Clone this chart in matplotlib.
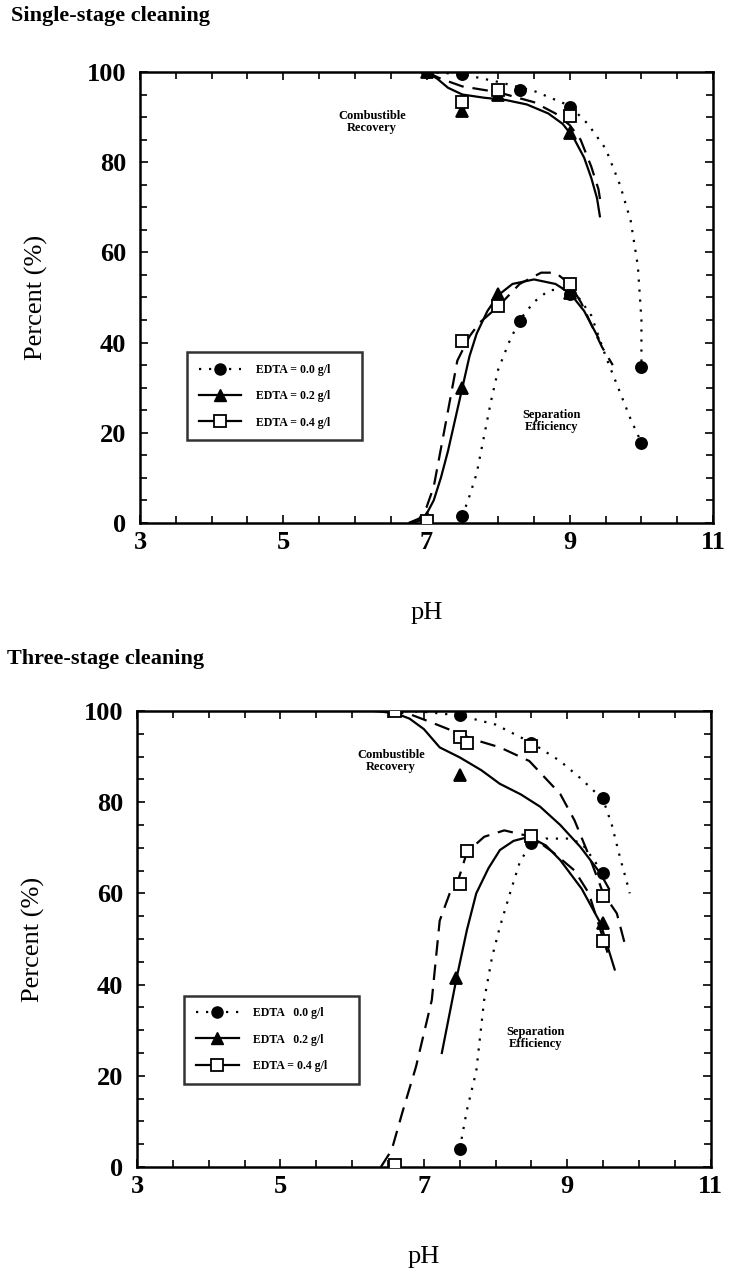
import matplotlib
matplotlib.use("Agg")
import matplotlib.pyplot as plt
from matplotlib.lines import Line2D
from matplotlib.ticker import MultipleLocator, FixedLocator

plt.rcParams['font.family'] = ['Liberation Serif', 'DejaVu Serif']

# ---- single-stage cleaning: measured points ----
s1_rec_ph_00 = [7.0, 7.5, 8.3, 9.0, 10.0]
s1_rec_00 = [100, 99.5, 96, 92.3, 34.5]
s1_rec_ph_02 = [7.0, 7.5, 8.0, 9.0]
s1_rec_02 = [100, 91.3, 95, 86.4]
s1_rec_ph_04 = [7.5, 8.0, 9.0]
s1_rec_04 = [93.3, 96, 90.2]

s1_sep_ph_00 = [7.5, 8.3, 9.0, 10.0]
s1_sep_00 = [1.5, 44.7, 50.7, 17.8]
s1_sep_ph_02 = [7.0, 7.5, 8.0, 9.0]
s1_sep_02 = [1.0, 30, 50.7, 51]
s1_sep_ph_04 = [7.0, 7.5, 8.0, 9.0]
s1_sep_04 = [0.5, 40.3, 48, 53]

# ---- single-stage cleaning: fitted curves ----
s1_crec_ph_00 = [7.0, 7.5, 8.0, 8.5, 9.0, 9.25, 9.5, 9.7, 9.85, 9.95, 10.0, 10.0]
s1_crec_00 = [100, 99.5, 97.8, 95.8, 92.5, 88.5, 83, 75, 67, 57, 45, 35]
s1_crec_ph_02 = [7.0, 7.15, 7.3, 7.5, 7.8, 8.1, 8.4, 8.7, 8.9, 9.05, 9.2, 9.3, 9.38, 9.42]
s1_crec_02 = [100, 98.5, 96.5, 95, 94.3, 93.8, 92.8, 90.8, 88.5, 85.5, 81, 76.5, 72, 68]
s1_crec_ph_04 = [7.0, 7.2, 7.5, 8.0, 8.5, 8.8, 9.0, 9.15, 9.3, 9.4, 9.43]
s1_crec_04 = [100, 98.5, 96.8, 95.5, 93.3, 90.8, 88.2, 85, 79, 74, 71]

s1_csep_ph_00 = [7.5, 7.6, 7.7, 7.8, 7.9, 8.0, 8.15, 8.3, 8.5, 8.7, 8.9, 9.1, 9.3, 9.5, 9.7, 9.85, 10.0]
s1_csep_00 = [1.5, 6, 11, 19, 27, 34, 40, 45, 49, 51.5, 52, 50.5, 46, 37, 29, 23, 17.8]
s1_csep_ph_02 = [6.8, 6.9, 7.0, 7.1, 7.2, 7.3, 7.4, 7.5, 7.6, 7.7, 7.85, 8.0, 8.2, 8.5, 8.8, 9.0, 9.2, 9.4]
s1_csep_02 = [0, 0.5, 2, 5, 10, 16, 23, 30, 37, 42, 47, 50.5, 53, 54, 53, 51, 47, 41]
s1_csep_ph_04 = [6.75, 6.9, 7.0, 7.1, 7.26, 7.43, 7.6, 7.74, 8.0, 8.3, 8.6, 8.8, 9.0, 9.16, 9.3, 9.45, 9.6]
s1_csep_04 = [0, 1, 3.5, 8, 21.5, 36, 41.4, 44.4, 48, 53, 55.5, 55.5, 53, 48.8, 44, 39, 35]

# ---- three-stage cleaning: measured points ----
s3_rec_ph_00 = [7.5, 8.5, 9.5]
s3_rec_00 = [99, 93, 81]
s3_rec_ph_02 = [7.5]
s3_rec_02 = [86]
s3_rec_ph_04 = [6.6, 7.5, 7.6, 8.5, 9.5]
s3_rec_04 = [100, 94.2, 92.9, 92.4, 59.5]

s3_sep_ph_00 = [7.5, 8.5, 9.5]
s3_sep_00 = [4, 71, 64.4]
s3_sep_ph_02 = [7.45, 9.5]
s3_sep_02 = [41.5, 53.5]
s3_sep_ph_04 = [6.6, 7.5, 7.6, 8.5, 9.5]
s3_sep_04 = [0.5, 62, 69.3, 72.5, 49.5]

# ---- three-stage cleaning: fitted curves ----
s3_crec_ph_00 = [6.6, 7.0, 7.5, 8.0, 8.5, 8.9, 9.2, 9.5, 9.62, 9.74, 9.82, 9.87]
s3_crec_00 = [100, 99.8, 99, 97, 93, 89, 85, 80.5, 75, 67.5, 63, 60]
s3_crec_ph_02 = [6.3, 6.6, 6.8, 7.0, 7.22, 7.5, 7.8, 8.06, 8.35, 8.62, 8.9, 9.18, 9.46, 9.58]
s3_crec_02 = [100, 99.5, 98.3, 96, 92, 89.8, 87, 84, 81.7, 79, 75, 70.2, 64.4, 61]
s3_crec_ph_04 = [6.5, 6.8, 7.1, 7.5, 7.7, 8.06, 8.47, 8.9, 9.1, 9.29, 9.5, 9.69, 9.8]
s3_crec_04 = [100, 99.3, 97.5, 95, 93.7, 92, 89, 81.8, 76, 68.7, 60, 55.6, 49]

s3_csep_ph_00 = [7.5, 7.6, 7.73, 7.84, 7.95, 8.06, 8.2, 8.34, 8.47, 8.7, 9.0, 9.2, 9.5]
s3_csep_00 = [4, 12.5, 21, 36.6, 46, 52.7, 60, 67, 70.2, 72, 72, 71, 64.4]
s3_csep_ph_02 = [7.25, 7.35, 7.45, 7.6, 7.73, 7.9, 8.06, 8.25, 8.47, 8.7, 8.9, 9.2, 9.46, 9.66]
s3_csep_02 = [25, 33, 41, 52, 60, 65.5, 69.5, 71.5, 72.4, 70.5, 67.3, 61, 53.5, 43.3]
s3_csep_ph_04 = [6.4, 6.55, 6.7, 6.89, 7.11, 7.22, 7.36, 7.48, 7.6, 7.84, 8.12, 8.5, 8.8, 9.1, 9.3, 9.5, 9.56]
s3_csep_04 = [0, 3.7, 12, 22, 36.6, 54, 60, 63, 69, 72.4, 73.8, 72.4, 69, 65, 60, 50, 47]

ph_ticks = [3, 5, 7, 9, 11]
labels_single = ["EDTA = 0.0 g/l", "EDTA = 0.2 g/l", "EDTA = 0.4 g/l"]
labels_three = ["EDTA   0.0 g/l", "EDTA   0.2 g/l", "EDTA = 0.4 g/l"]

DOT = (0, (1, 3.5))
DASH = (0, (7, 4))


def draw_panel(ax, pts, curves, labels, rec_xy, sep_xy):
    styles = [DOT, '-', DASH]
    for (xs, ys), ls in zip(curves, styles * 2):
        ax.plot(xs, ys, color='black', lw=1.6, linestyle=ls)

    marks = [dict(marker='o', mfc='black', ms=8),
             dict(marker='^', mfc='black', ms=8),
             dict(marker='s', mfc='white', ms=9)]
    for (xs, ys), m in zip(pts, marks * 2):
        ax.plot(xs, ys, linestyle='none', mec='black', mew=1.3, zorder=5, **m)

    handles = [Line2D([], [], color='black', lw=1.6, linestyle=DOT, **marks[0]),
               Line2D([], [], color='black', lw=1.6, linestyle='-', **marks[1]),
               Line2D([], [], color='black', lw=1.6, linestyle='-', mec='black', mew=1.3, **marks[2])]
    leg = ax.legend(handles, labels, loc='lower left', bbox_to_anchor=(0.072, 0.17, 0.325, 0.235),
                    mode='expand', frameon=True, fancybox=False, edgecolor='black',
                    handlelength=3.6, labelspacing=1.2, borderpad=1.0, handletextpad=1.2,
                    prop={'family': 'Liberation Serif', 'weight': 'bold', 'size': 8.5})
    leg.get_frame().set_linewidth(1.8)

    ax.text(rec_xy[0], rec_xy[1], "Combustible\nRecovery", ha='center', va='center',
            fontsize=9, fontweight='bold', linespacing=1.0)
    ax.text(sep_xy[0], sep_xy[1], "Separation\nEfficiency", ha='center', va='center',
            fontsize=9, fontweight='bold', linespacing=1.0)

    ax.set_xlim(3, 11)
    ax.set_ylim(0, 100)
    ax.xaxis.set_major_locator(FixedLocator(ph_ticks))
    ax.xaxis.set_minor_locator(MultipleLocator(0.5))
    ax.yaxis.set_major_locator(MultipleLocator(20))
    ax.yaxis.set_minor_locator(MultipleLocator(5))
    ax.tick_params(which='both', direction='in', top=True, right=True, width=1.2)
    ax.tick_params(which='major', length=6, labelsize=19)
    ax.tick_params(which='minor', length=5)
    ax.tick_params(axis='y', pad=10)
    ax.tick_params(axis='x', pad=6)
    for lbl in ax.get_xticklabels() + ax.get_yticklabels():
        lbl.set_fontweight('bold')
    for sp in ax.spines.values():
        sp.set_linewidth(1.8)
    ax.set_xlabel("pH", fontsize=19, labelpad=34)
    ax.set_ylabel("Percent (%)", fontsize=19, labelpad=28)


fig = plt.figure(figsize=(7.3, 12.74), dpi=100)
ax1 = fig.add_axes([0.1918, 0.5895, 0.785, 0.354])
ax2 = fig.add_axes([0.1877, 0.084, 0.786, 0.358])

draw_panel(ax1,
           [(s1_rec_ph_00, s1_rec_00), (s1_rec_ph_02, s1_rec_02), (s1_rec_ph_04, s1_rec_04),
            (s1_sep_ph_00, s1_sep_00), (s1_sep_ph_02, s1_sep_02), (s1_sep_ph_04, s1_sep_04)],
           [(s1_crec_ph_00, s1_crec_00), (s1_crec_ph_02, s1_crec_02), (s1_crec_ph_04, s1_crec_04),
            (s1_csep_ph_00, s1_csep_00), (s1_csep_ph_02, s1_csep_02), (s1_csep_ph_04, s1_csep_04)],
           labels_single, (6.24, 88.8), (8.74, 22.6))

draw_panel(ax2,
           [(s3_rec_ph_00, s3_rec_00), (s3_rec_ph_02, s3_rec_02), (s3_rec_ph_04, s3_rec_04),
            (s3_sep_ph_00, s3_sep_00), (s3_sep_ph_02, s3_sep_02), (s3_sep_ph_04, s3_sep_04)],
           [(s3_crec_ph_00, s3_crec_00), (s3_crec_ph_02, s3_crec_02), (s3_crec_ph_04, s3_crec_04),
            (s3_csep_ph_00, s3_csep_00), (s3_csep_ph_02, s3_csep_02), (s3_csep_ph_04, s3_csep_04)],
           labels_three, (6.54, 89), (8.56, 28.2))

fig.text(0.015, 0.9874, "Single-stage cleaning", fontsize=16, fontweight='bold', va='center')
fig.text(0.010, 0.4827, "Three-stage cleaning", fontsize=16, fontweight='bold', va='center')

fig.savefig("out.png", dpi=100)
